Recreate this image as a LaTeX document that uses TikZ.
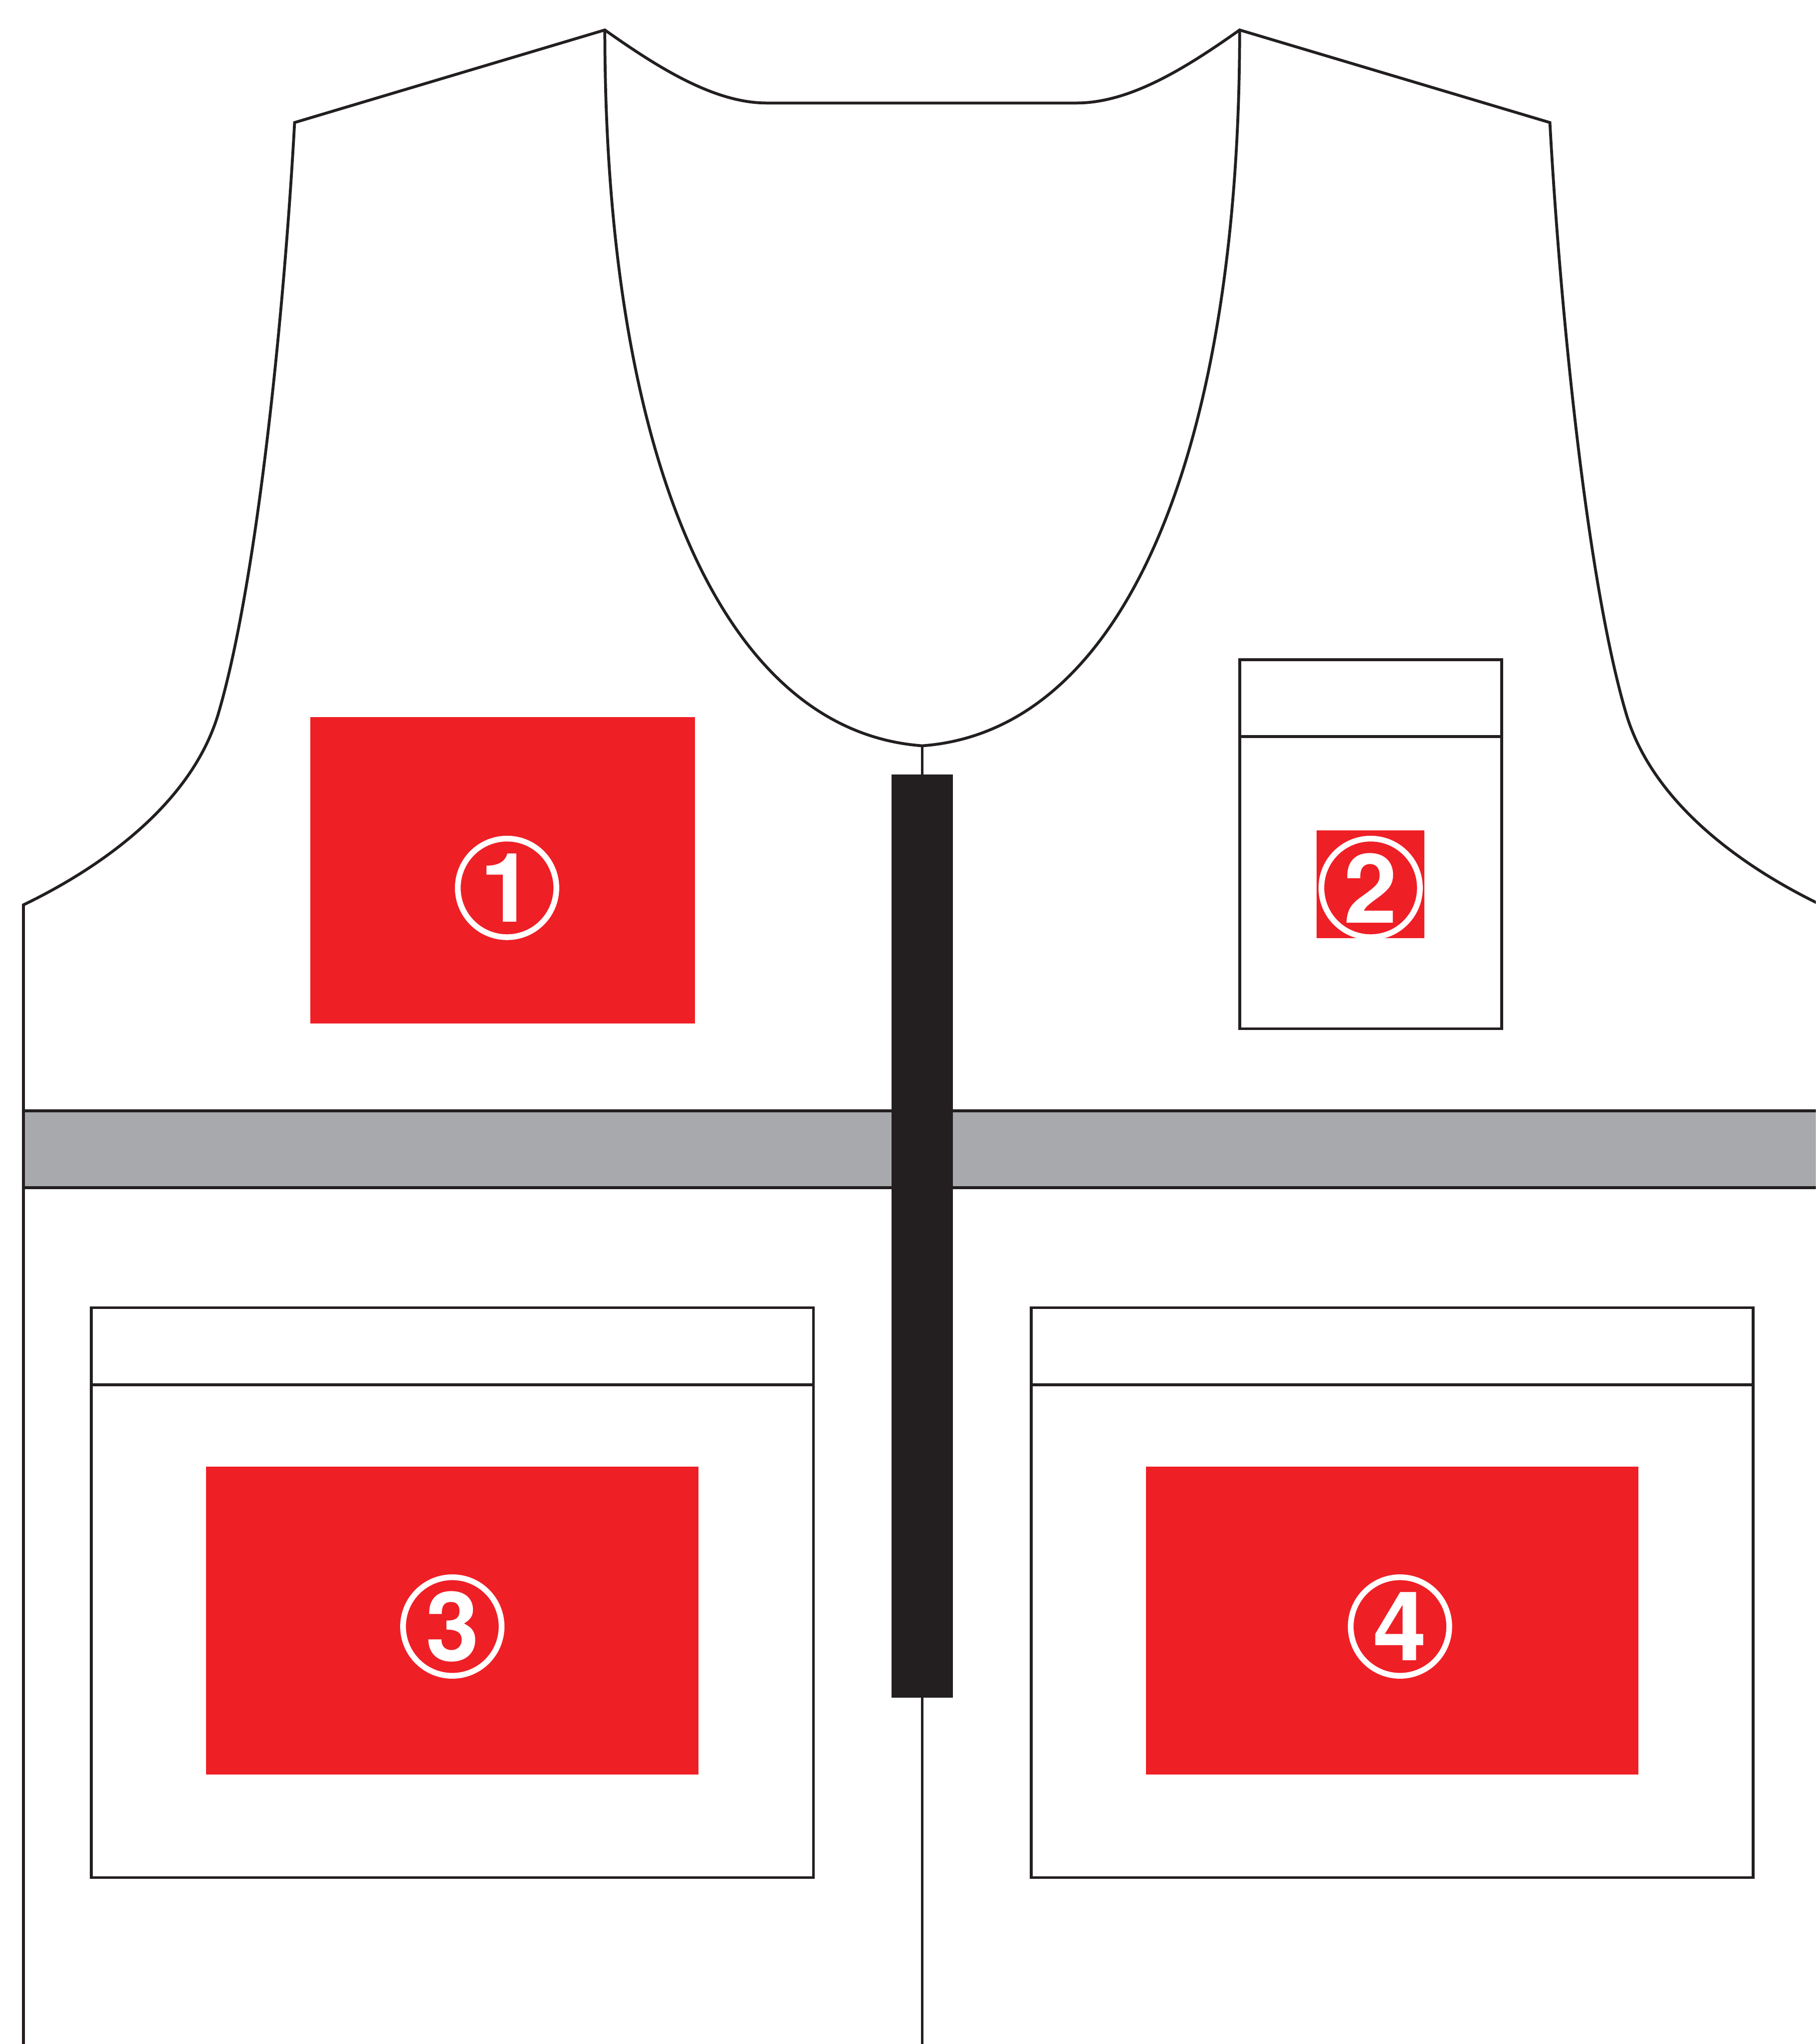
\documentclass[tikz,border=0pt]{standalone}
\usepackage{fontspec}
\setmainfont{TeX Gyre Heros}
\definecolor{patchred}{HTML}{EF1F26}
\definecolor{bandgray}{HTML}{A7A9AC}
\definecolor{zipblack}{HTML}{231F20}
\tikzset{
    seam/.style={draw=zipblack,line width=0.22mm},
    patch/.style={fill=patchred},
    badge/.style={circle,draw=white,line width=0.44mm,minimum size=7.56mm,inner sep=0pt,
        text=white,font=\fontsize{21}{21}\selectfont\bfseries},
}
\begin{document}
\begin{tikzpicture}[x=0.1mm,y=-0.1mm]
    \useasboundingbox (0,0) rectangle (1393,1567.7);
    \clip (0,0) rectangle (1393,1567.7);
    \draw[seam] (18,1570) -- (18,694)
        .. controls (72,668) and (145,620) .. (167,549)
        .. controls (197,449) and (218,240) .. (226,94)
        -- (464,23)
        .. controls (505,52) and (548,79) .. (588,79)
        -- (826,79)
        .. controls (867,79) and (910,52) .. (951,23)
        -- (1189,94)
        .. controls (1197,240) and (1218,449) .. (1248,549)
        .. controls (1270,620) and (1343,668) .. (1397,694);
    \draw[seam] (464,23) .. controls (464,330) and (545,560) .. (707.5,572)
        .. controls (870,560) and (951,330) .. (951,23);
    \draw[seam] (707.5,572) -- (707.5,1570);
    \filldraw[seam,fill=bandgray] (18,852) rectangle (1400,911);
    \fill[zipblack] (684,594) rectangle (731,1302);
    \draw[seam] (951,506) rectangle (1152,789);
    \draw[seam] (951,565) -- (1152,565);
    \draw[seam] (70,1003) rectangle (624,1440);
    \draw[seam] (70,1062) -- (624,1062);
    \draw[seam] (791,1003) rectangle (1345,1440);
    \draw[seam] (791,1062) -- (1345,1062);
    \fill[patch] (238,550) rectangle (533,785);
    \fill[patch] (1010,637) rectangle (1092.7,719.5);
    \fill[patch] (158,1125) rectangle (536,1361);
    \fill[patch] (879,1125) rectangle (1257,1361);
    \node[badge] (one) at (389,681) {1};
    \node[badge] (two) at (1051.5,681) {2};
    \node[badge] (three) at (347,1247.5) {3};
    \node[badge] (four) at (1074,1247.5) {4};
\end{tikzpicture}
\end{document}
